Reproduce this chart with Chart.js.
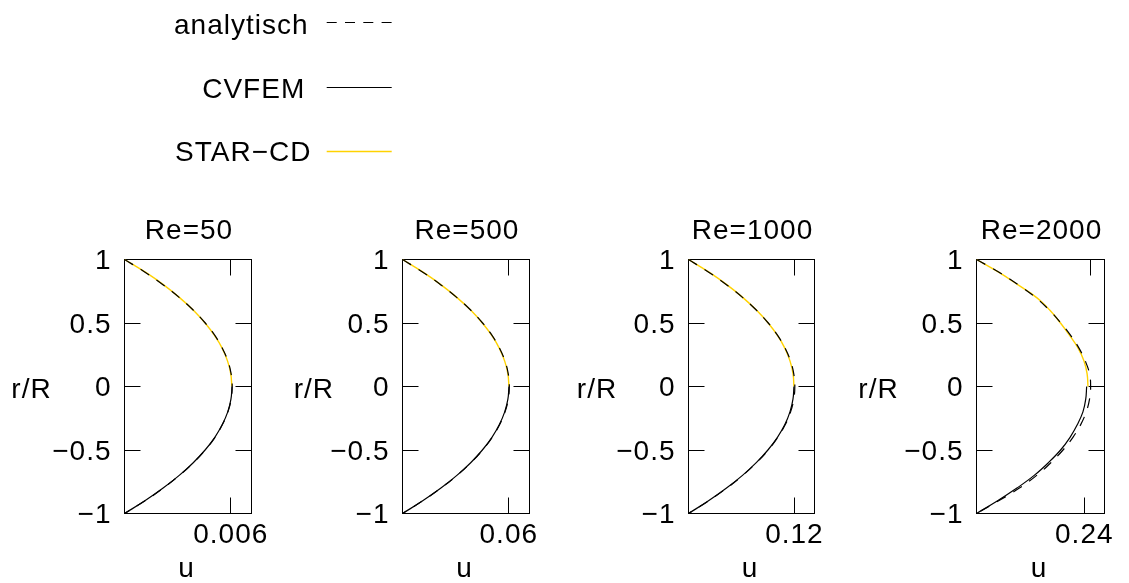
<!DOCTYPE html>
<html><head><meta charset="utf-8">
<script src="https://cdn.jsdelivr.net/npm/chart.js@4.4.1/dist/chart.umd.min.js"></script>
<style>
html,body{margin:0;padding:0;background:#fff;}
#wrap{position:relative;width:1129px;height:583px;overflow:hidden;background:#fff;font-family:'Liberation Sans',Arial,sans-serif;}
#wrap canvas{position:absolute;left:0;top:0;}
#wrap svg{position:absolute;left:0;top:0;}
.lg{position:absolute;font-size:28px;line-height:32px;letter-spacing:1px;color:#000;white-space:nowrap;text-align:right;}
</style></head><body>
<div id="wrap">
  <svg width="1129" height="583" id="lgsvg"></svg>
  <canvas id="c0" width="1129" height="583"></canvas>
  <canvas id="c1" width="1129" height="583"></canvas>
  <canvas id="c2" width="1129" height="583"></canvas>
  <canvas id="c3" width="1129" height="583"></canvas>
</div>
<script>
// ---------------- data ----------------
const SERIES_NAMES = ['analytisch', 'CVFEM', 'STAR\u2212CD'];
const RE_TITLES = ['Re=50', 'Re=500', 'Re=1000', 'Re=2000'];
const X_TICK_VALUES = [0.006, 0.06, 0.12, 0.24];
const X_TICK_LABELS = ['0.006', '0.06', '0.12', '0.24'];
const X_MAX = [0.00717, 0.0717, 0.1428, 0.285];
const X2_MAX = [0.00717, 0.0717, 0.1428, 0.2683];
const Y_TICKS = [-1, -0.5, 0, 0.5, 1];
const Y_TICK_LABELS = ['\u22121', '\u22120.5', '0', '0.5', '1'];
const X_TITLE = 'u';
const Y_TITLE = 'r/R';

const R_FULL  = [1, 0.9, 0.8, 0.7, 0.6, 0.5, 0.4, 0.3, 0.2, 0.1, 0, -0.1, -0.2, -0.3, -0.4, -0.5, -0.6, -0.7, -0.8, -0.9, -1];
const R_UPPER = [1, 0.9, 0.8, 0.7, 0.6, 0.5, 0.4, 0.3, 0.2, 0.1, 0];
const R_LOWER = [0, -0.1, -0.2, -0.3, -0.4, -0.5, -0.6, -0.7, -0.8, -0.9, -1];

// Re = 50
const ANALYTIC_RE50 = [0, 0.00116, 0.00219, 0.00310, 0.00389, 0.00456, 0.00511, 0.00553, 0.00584, 0.00602, 0.00608,
                       0.00602, 0.00584, 0.00553, 0.00511, 0.00456, 0.00389, 0.00310, 0.00219, 0.00116, 0];
const CVFEM_RE50    = [0.00607, 0.00601, 0.00583, 0.00552, 0.00510, 0.00455, 0.00388, 0.00309, 0.00218, 0.00115, 0];
const STARCD_RE50   = [0, 0.00118, 0.00221, 0.00311, 0.00389, 0.00455, 0.00509, 0.00552, 0.00582, 0.00600, 0.00606];
// Re = 500
const ANALYTIC_RE500 = [0, 0.01146, 0.02171, 0.03075, 0.03860, 0.04523, 0.05065, 0.05487, 0.05789, 0.05970, 0.0603,
                        0.05970, 0.05789, 0.05487, 0.05065, 0.04523, 0.03860, 0.03075, 0.02171, 0.01146, 0];
const CVFEM_RE500    = [0.0601, 0.0595, 0.0577, 0.0547, 0.0505, 0.0451, 0.0385, 0.0307, 0.0217, 0.0114, 0];
const STARCD_RE500   = [0, 0.0116, 0.0218, 0.0308, 0.0386, 0.0451, 0.0505, 0.0547, 0.0577, 0.0595, 0.0601];
// Re = 1000
const ANALYTIC_RE1000 = [0, 0.0229, 0.0434, 0.0615, 0.0771, 0.0904, 0.1012, 0.1097, 0.1157, 0.1193, 0.1205,
                         0.1193, 0.1157, 0.1097, 0.1012, 0.0904, 0.0771, 0.0615, 0.0434, 0.0229, 0];
const CVFEM_RE1000    = [0.1195, 0.1184, 0.1150, 0.1092, 0.1008, 0.0900, 0.0768, 0.0612, 0.0431, 0.0227, 0];
const STARCD_RE1000   = [0, 0.0232, 0.0437, 0.0617, 0.0772, 0.0903, 0.1010, 0.1093, 0.1151, 0.1185, 0.1195];
// Re = 2000
const ANALYTIC_RE2000 = [0, 0.0502, 0.0936, 0.1320, 0.1625, 0.1880, 0.2100, 0.2285, 0.2423, 0.2517, 0.2541,
                         0.2517, 0.2443, 0.2320, 0.2147, 0.1926, 0.1655, 0.1340, 0.0955, 0.0493, 0];
const CVFEM_RE2000    = [0.2453, 0.2432, 0.2370, 0.2246, 0.2083, 0.1872, 0.1600, 0.1285, 0.0900, 0.0470, 0];
const STARCD_RE2000   = [0, 0.0493, 0.0926, 0.1340, 0.1635, 0.1870, 0.2078, 0.2266, 0.2394, 0.2463, 0.2482];

const ANALYTIC = [ANALYTIC_RE50, ANALYTIC_RE500, ANALYTIC_RE1000, ANALYTIC_RE2000];
const CVFEM    = [CVFEM_RE50, CVFEM_RE500, CVFEM_RE1000, CVFEM_RE2000];
const STARCD   = [STARCD_RE50, STARCD_RE500, STARCD_RE1000, STARCD_RE2000];

// ---------------- layout / style ----------------
const W = 1129, H = 583;
const FONT_FAMILY = "'Liberation Sans', Arial, sans-serif";
const FONT_SIZE = 28;
const LS = '1px';
const YELLOW = '#ffd200';
const PLOT_TOP = 259.5, PLOT_BOTTOM = 513.5;
const PLOT_LEFT  = [124.5, 402.5, 688.5, 976.5];
const PLOT_RIGHT = [251.5, 529.5, 814.5, 1104.5];
const YLABEL_X   = [31, 313.3, 596.5, 878];
const YW = 80;     // y-axis box width
const TL = 16;     // inward tick length

const gp = {
  id: 'gp',
  beforeUpdate(chart) { chart.ctx.letterSpacing = LS; },
  beforeDraw(chart) { chart.ctx.letterSpacing = LS; },
  beforeDatasetsDraw(chart, args, opts) {
    const {ctx, chartArea: a, scales} = chart;
    ctx.save();
    ctx.strokeStyle = '#000';
    ctx.lineWidth = 1;
    ctx.strokeRect(a.left, a.top, a.right - a.left, a.bottom - a.top);
    ctx.beginPath();
    for (const v of Y_TICKS) {
      const y = Math.round(scales.y.getPixelForValue(v) - 0.5) + 0.5;
      ctx.moveTo(a.left, y); ctx.lineTo(a.left + TL, y);
      ctx.moveTo(a.right, y); ctx.lineTo(a.right - TL, y);
    }
    const xb = Math.round(scales.x.getPixelForValue(opts.tick) - 0.5) + 0.5;
    ctx.moveTo(xb, a.bottom); ctx.lineTo(xb, a.bottom - TL);
    const xt = Math.round(scales.x2.getPixelForValue(opts.tick) - 0.5) + 0.5;
    ctx.moveTo(xt, a.top); ctx.lineTo(xt, a.top + TL);
    ctx.stroke();
    ctx.restore();
  },
  afterDraw(chart, args, opts) {
    const {ctx, chartArea: a} = chart;
    ctx.save();
    ctx.letterSpacing = LS;
    ctx.fillStyle = '#000';
    ctx.font = FONT_SIZE + 'px ' + FONT_FAMILY;
    ctx.textAlign = 'center';
    ctx.textBaseline = 'alphabetic';
    const cx = (a.left + a.right) / 2;
    ctx.fillText(opts.title, cx + 1, 239);
    ctx.fillText(Y_TITLE, opts.ylabelX + 0.5, 398);
    ctx.fillText(X_TITLE, cx - 1.5, 577);
    ctx.restore();
  }
};

function pts(us, rs) { return us.map((u, k) => ({x: u, y: rs[k]})); }

for (let i = 0; i < 4; i++) {
  const tickFont = {family: FONT_FAMILY, size: FONT_SIZE};
  new Chart(document.getElementById('c' + i), {
    type: 'scatter',
    data: {
      datasets: [
        {label: SERIES_NAMES[0], data: pts(ANALYTIC[i], R_FULL), borderColor: '#000', borderDash: [10, 9],
         borderWidth: 1.2, showLine: true, pointRadius: 0, tension: 0.4, fill: false, order: 0},
        {label: SERIES_NAMES[1], data: pts(CVFEM[i], R_LOWER), borderColor: '#000',
         borderWidth: 1.2, showLine: true, pointRadius: 0, tension: 0.4, fill: false, order: 1},
        {label: SERIES_NAMES[2], data: pts(STARCD[i], R_UPPER), borderColor: YELLOW,
         borderWidth: 1.4, showLine: true, pointRadius: 0, tension: 0.4, fill: false, order: 2}
      ]
    },
    options: {
      responsive: false, animation: false, devicePixelRatio: 1,
      events: [],
      layout: {padding: {left: PLOT_LEFT[i] - YW, right: W - PLOT_RIGHT[i], top: PLOT_TOP, bottom: 0}},
      plugins: {
        legend: {display: false}, tooltip: {enabled: false}, title: {display: false},
        gp: {title: RE_TITLES[i], tick: X_TICK_VALUES[i], ylabelX: YLABEL_X[i]}
      },
      scales: {
        x: {
          type: 'linear', position: 'bottom', min: 0, max: X_MAX[i],
          grid: {display: false, drawTicks: false}, border: {display: false},
          afterBuildTicks: s => { s.ticks = [{value: X_TICK_VALUES[i]}]; },
          afterFit: s => { s.height = H - PLOT_BOTTOM; },
          ticks: {callback: () => X_TICK_LABELS[i], padding: 5, color: '#000', font: tickFont,
                  maxRotation: 0, minRotation: 0, autoSkip: false}
        },
        x2: {type: 'linear', position: 'top', min: 0, max: X2_MAX[i], display: false},
        y: {
          type: 'linear', position: 'left', min: -1, max: 1,
          grid: {display: false, drawTicks: false}, border: {display: false},
          afterBuildTicks: s => { s.ticks = Y_TICKS.map(v => ({value: v})); },
          afterFit: s => { s.width = YW; },
          ticks: {callback: v => Y_TICK_LABELS[Y_TICKS.indexOf(v)], padding: 13, labelOffset: 2,
                  color: '#000', font: tickFont, autoSkip: false}
        }
      }
    },
    plugins: [gp]
  });
}

// ---------------- legend ----------------
const LEGEND_RIGHT = [308.5, 305.2, 311.5];
const LEGEND_TOP = [9.3, 73.3, 136];
const LEGEND_LINE_Y = [22.5, 87.5, 151.5];
const wrap = document.getElementById('wrap');
const svg = document.getElementById('lgsvg');
const NS = 'http://www.w3.org/2000/svg';
const legendStyles = [
  {stroke: '#000', dash: '10 8.3', w: 1.2},
  {stroke: '#000', dash: '', w: 1.2},
  {stroke: YELLOW, dash: '', w: 1.6}
];
SERIES_NAMES.forEach((name, k) => {
  const d = document.createElement('div');
  d.className = 'lg';
  d.textContent = name;
  d.style.right = (W - LEGEND_RIGHT[k]) + 'px';
  d.style.top = LEGEND_TOP[k] + 'px';
  wrap.appendChild(d);
  const ln = document.createElementNS(NS, 'line');
  ln.setAttribute('x1', 326.7); ln.setAttribute('x2', 391.7);
  ln.setAttribute('y1', LEGEND_LINE_Y[k]); ln.setAttribute('y2', LEGEND_LINE_Y[k]);
  ln.setAttribute('stroke', legendStyles[k].stroke);
  ln.setAttribute('stroke-width', legendStyles[k].w);
  if (legendStyles[k].dash) ln.setAttribute('stroke-dasharray', legendStyles[k].dash);
  svg.appendChild(ln);
});
</script>
</body></html>
